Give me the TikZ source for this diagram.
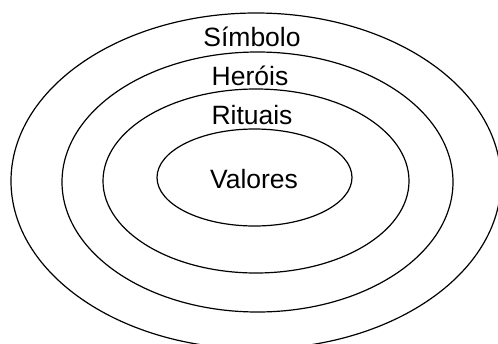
\documentclass[tikz,border=0pt]{standalone}
\usepackage{fontspec}
\setmainfont{Liberation Sans}
\usepackage{tikz}
\usetikzlibrary{positioning}

\begin{document}
\begin{tikzpicture}[x=1pt, y=-1pt,
		ring/.style={line width=1.2pt, black},
		lbl/.style={font=\fontsize{26.5}{30}\selectfont, inner sep=0pt, anchor=base}]
		\useasboundingbox (0,0) rectangle (498,343);
		\coordinate (ctr) at (256,181);
		% rings, outside in
		\draw[ring] (ctr) ellipse [x radius=245, y radius=168];
		\draw[ring] (257.5,182) ellipse [x radius=195.5, y radius=130];
		\draw[ring] (256,181) ellipse [x radius=153, y radius=92];
		\draw[ring] (254.5,177.5) ellipse [x radius=97.5, y radius=48.5];
		\node[lbl] (simb) at (252,46.5) {Símbolo};
		\node[lbl] (hero) at (250,85) {Heróis};
		\node[lbl] (rit) at (252,124.5) {Rituais};
		\node[lbl] (val) at (254,188.5) {Valores};
	\end{tikzpicture}
\end{document}
